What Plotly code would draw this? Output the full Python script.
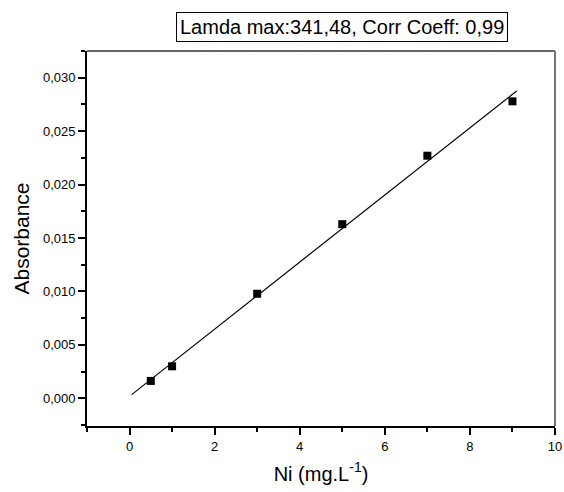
import numpy as np
import plotly.graph_objects as go

# Data
conc = [0.5, 1, 3, 5, 7, 9]
absorbance = [0.00162, 0.00299, 0.00978, 0.01629, 0.0227, 0.02779]
fit_x_range = [0.05, 9.1]
title_text = "Lamda max:341,48, Corr Coeff: 0,99"

slope, intercept = np.polyfit(conc, absorbance, 1)
fit_x = np.array(fit_x_range)
fit_y = slope * fit_x + intercept

fig = go.Figure()
fig.add_trace(go.Scatter(x=fit_x, y=fit_y, mode="lines",
                         line=dict(color="black", width=1.2), showlegend=False))
fig.add_trace(go.Scatter(x=conc, y=absorbance, mode="markers",
                         marker=dict(symbol="square", size=8, color="black"),
                         showlegend=False))

font = "Liberation Sans, Arial, sans-serif"
fig.update_layout(
    width=564, height=492,
    margin=dict(l=87, r=9, t=51, b=66),
    plot_bgcolor="white", paper_bgcolor="white",
    separators=",.",
    font=dict(family=font, color="black", size=13),
    xaxis=dict(range=[-1, 10], tick0=0, dtick=2, ticks="outside", ticklen=7,
               tickwidth=1.5, tickcolor="black", showgrid=False, zeroline=False,
               showline=True, linecolor="black", linewidth=1.8, automargin=False,
               tickfont=dict(size=13),
               minor=dict(dtick=1, tick0=0, ticks="outside", ticklen=4,
                          tickwidth=1.5, tickcolor="black", showgrid=False),
               title=dict(text="Ni (mg.L<sup>-1</sup>)", font=dict(size=20), standoff=14)),
    yaxis=dict(range=[-0.0026, 0.0325], tick0=0, dtick=0.005, tickformat=".3f",
               ticks="outside", ticklen=7, tickwidth=1.5, tickcolor="black",
               showgrid=False, zeroline=False, showline=True, linecolor="black",
               linewidth=1.8, automargin=False, tickfont=dict(size=13),
               minor=dict(dtick=0.0025, tick0=0, ticks="outside", ticklen=4,
                          tickwidth=1.5, tickcolor="black", showgrid=False),
               title=dict(text="Absorbance", font=dict(size=21), standoff=8)),
)

# top and right frame lines (gray)
fig.add_shape(type="line", xref="paper", yref="paper", x0=0, x1=1, y0=1, y1=1,
              line=dict(color="#666666", width=1.8))
fig.add_shape(type="line", xref="paper", yref="paper", x0=1, x1=1, y0=0, y1=1,
              line=dict(color="#666666", width=1.8))

fig.add_annotation(xref="paper", yref="paper", x=0.544, y=1.063,
                   xanchor="center", yanchor="middle", showarrow=False,
                   text=title_text, font=dict(size=20, family=font),
                   bordercolor="black", borderwidth=1, borderpad=3, bgcolor="white")

fig.write_html("out.html")
